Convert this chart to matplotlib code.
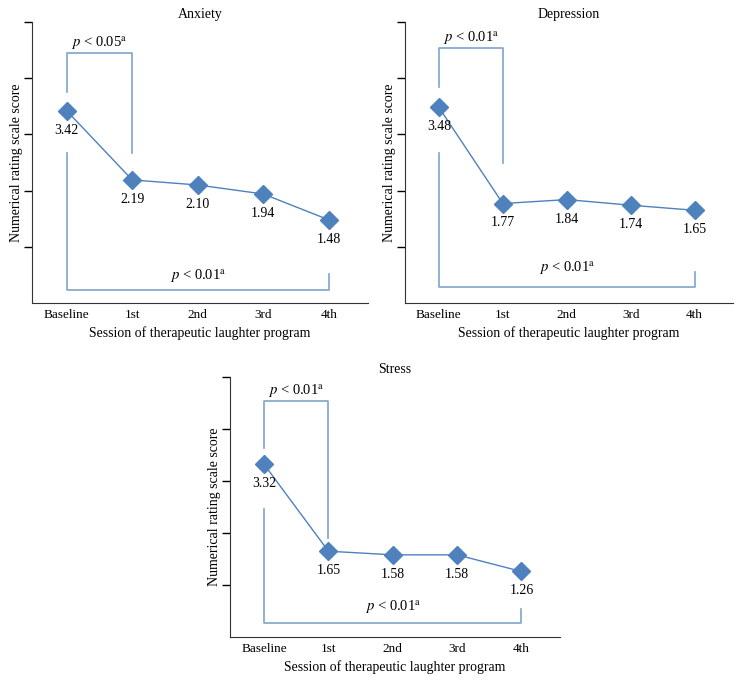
import matplotlib.pyplot as plt

##### Data #####
sessions = ['Baseline', '1st', '2nd', '3rd', '4th']
anxiety = [3.42, 2.19, 2.10, 1.94, 1.48]
depression = [3.48, 1.77, 1.84, 1.74, 1.65]
stress = [3.32, 1.65, 1.58, 1.58, 1.26]
titles = ['Anxiety', 'Depression', 'Stress']
p_top = ['0.05', '0.01', '0.01']
p_bottom = ['0.01', '0.01', '0.01']

##### Style #####
plt.rcParams['font.family'] = ['Liberation Serif', 'DejaVu Serif']
plt.rcParams['mathtext.fontset'] = 'stix'
blue = '#4f81bd'
bracket_color = '#7fa3cc'

# axes rectangles in figure fractions (left, bottom, width, height)
rects = [
    (32 / 738, (685 - 303) / 685, 336 / 738, 281 / 685),
    (405 / 738, (685 - 303) / 685, 328 / 738, 281 / 685),
    (230 / 738, (685 - 637) / 685, 330 / 738, 260 / 685),
]
# bracket geometry (y in data units): top: left leg low, bar, right leg low; bottom: left leg high, bar, right leg high
brackets = [
    dict(top=(3.75, 4.45, 2.67), bottom=(2.67, 0.23, 0.52), ttop=4.62, tbot=0.47),
    dict(top=(3.84, 4.53, 2.50), bottom=(2.67, 0.29, 0.55), ttop=4.72, tbot=0.62),
    dict(top=(3.63, 4.54, 1.90), bottom=(2.46, 0.27, 0.54), ttop=4.72, tbot=0.57),
]

fig = plt.figure(figsize=(7.38, 6.85), dpi=100)
x = list(range(len(sessions)))

for values, title, rect, br, pt, pb in zip([anxiety, depression, stress], titles, rects, brackets, p_top, p_bottom):
    ax = fig.add_axes(rect)
    ax.plot(x, values, color=blue, lw=1, marker='D', markersize=9, zorder=3)
    for xi, v in zip(x, values):
        ax.annotate(f'{v:.2f}', (xi, v), xytext=(0, -14), textcoords='offset points',
                    ha='center', va='center', fontsize=10)

    # significance brackets
    l, h, r = br['top']
    ax.plot([0, 0, 1, 1], [l, h, h, r], color=bracket_color, lw=1.2)
    l, h, r = br['bottom']
    ax.plot([0, 0, 4, 4], [l, h, h, r], color=bracket_color, lw=1.2)
    ax.text(0.5, br['ttop'], rf'$p$ < {pt}$^{{\mathrm{{a}}}}$', ha='center', va='center', fontsize=10.5)
    ax.text(2, br['tbot'], rf'$p$ < {pb}$^{{\mathrm{{a}}}}$', ha='center', va='center', fontsize=10.5)

    ax.set_xlim(-0.53, 4.6)
    ax.set_ylim(0, 5)
    ax.set_yticks([1, 2, 3, 4, 5])
    ax.set_yticklabels([])
    ax.set_xticks(x)
    ax.set_xticklabels(sessions, fontsize=9.5)
    ax.tick_params(axis='x', length=0, pad=4)
    ax.tick_params(axis='y', length=6, width=1, direction='out')
    for side in ['top', 'right']:
        ax.spines[side].set_visible(False)
    ax.spines['left'].set_color('#333333')
    ax.spines['bottom'].set_color('#333333')
    ax.set_title(title, fontsize=10, pad=3)
    ax.set_ylabel('Numerical rating scale score', fontsize=10, labelpad=-3)
    ax.set_xlabel('Session of therapeutic laughter program', fontsize=9.9, labelpad=4)

plt.savefig('out.png', dpi=100)
plt.close()
